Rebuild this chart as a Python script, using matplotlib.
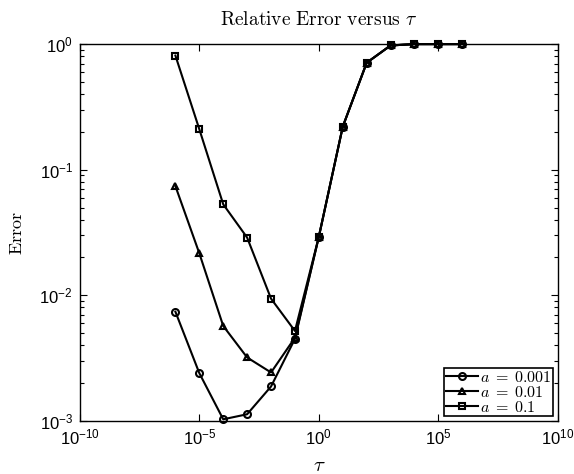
import matplotlib
matplotlib.use('Agg')
import matplotlib.pyplot as plt
import numpy as np
from matplotlib.ticker import LogLocator, FixedLocator, NullFormatter, NullLocator
from matplotlib.font_manager import FontProperties


##--- data: relative error against tau for three values of a
tau = [1e-6, 1e-5, 1e-4, 1e-3, 1e-2, 1e-1, 1e0, 1e1, 1e2, 1e3, 1e4, 1e5, 1e6]

err_a0001 = [0.0074, 0.0024, 0.00103, 0.00113, 0.00188, 0.0045,
             0.0293, 0.22, 0.71, 0.975, 1.0, 1.0, 1.0]
err_a001  = [0.074, 0.0216, 0.0057, 0.0032, 0.00243, 0.0046,
             0.0293, 0.22, 0.71, 0.975, 1.0, 1.0, 1.0]
err_a01   = [0.81, 0.21, 0.053, 0.0288, 0.0094, 0.0052,
             0.0293, 0.22, 0.71, 0.975, 1.0, 1.0, 1.0]

labels  = [r'$a\;=\;0.001$', r'$a\;=\;0.01$', r'$a\;=\;0.1$']
markers = ['o', '^', 's']

xticks = [1e-10, 1e-5, 1e0, 1e5, 1e10]
yticks = [1e-3, 1e-2, 1e-1, 1e0]


##--- fonts: sans tick labels, computer modern for the text
plt.rcParams['font.family'] = ['Liberation Sans', 'DejaVu Sans']
plt.rcParams['mathtext.fontset'] = 'custom'
plt.rcParams['mathtext.rm'] = 'Liberation Sans'
plt.rcParams['mathtext.it'] = 'Liberation Sans:italic'
plt.rcParams['mathtext.bf'] = 'Liberation Sans:bold'


##----------------------- PLOTTING
fig = plt.figure(figsize=(5.74, 4.74), dpi=100)
ax = fig.add_axes([0.139, 0.112, 0.833, 0.795])

for ys, lab, mk in zip([err_a0001, err_a001, err_a01], labels, markers):
    ax.plot(tau, ys, color='black', lw=1.5, marker=mk, ms=5,
            mfc='none', mec='black', mew=1.5, label=lab, clip_on=False)

ax.set_xscale('log')
ax.set_yscale('log')
ax.set_xlim(1e-10, 1e10)
ax.set_ylim(1e-3, 1e0)

ax.xaxis.set_major_locator(FixedLocator(xticks))
ax.xaxis.set_minor_locator(NullLocator())
ax.yaxis.set_major_locator(FixedLocator(yticks))
ax.yaxis.set_minor_locator(LogLocator(base=10, subs=np.arange(2, 10), numticks=20))
ax.yaxis.set_minor_formatter(NullFormatter())

ax.set_xticklabels([r'$10^{%d}$' % int(np.log10(v)) for v in xticks])
ax.set_yticklabels([r'$10^{%d}$' % int(np.log10(v)) for v in yticks])

ax.tick_params(which='both', direction='in', top=True, right=True,
               labelsize=12, width=0.8)
ax.tick_params(which='major', length=5, pad=5)
ax.tick_params(which='minor', length=3)
for sp in ax.spines.values():
    sp.set_linewidth(1.0)

ax.set_title(r'$\mathrm{Relative\ Error\ versus}\ \tau$', fontsize=14,
             math_fontfamily='cm', pad=14)
ax.set_xlabel(r'$\tau$', fontsize=15, math_fontfamily='cm', labelpad=6)
ax.set_ylabel(r'$\mathrm{Error}$', fontsize=13, math_fontfamily='cm', labelpad=10)

leg = ax.legend(loc='lower right', prop=FontProperties(size=11.5, math_fontfamily='cm'),
                handlelength=2.0, handletextpad=0.15, labelspacing=0.0,
                borderpad=0.1, borderaxespad=0.3, fancybox=False,
                edgecolor='black', framealpha=1)
leg.get_frame().set_linewidth(1.2)

plt.savefig('out.png', dpi=100)
